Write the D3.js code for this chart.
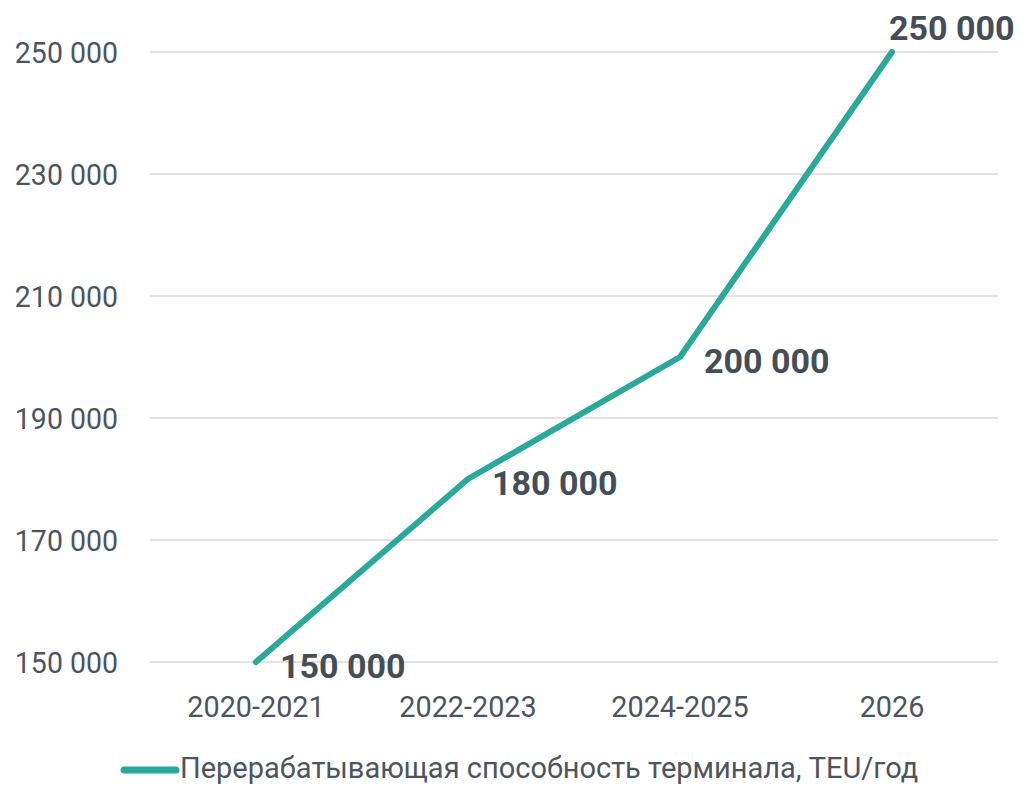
<!DOCTYPE html>
<html>
<head>
<meta charset="utf-8">
<script src="https://cdn.jsdelivr.net/npm/d3@7"></script>
<style>
	body { margin: 0; background: #fff; }
	text { font-family: Roboto, "Noto Sans", sans-serif; }
</style>
</head>
<body>
<div id="chart"></div>
<script>
let periods = ["2020-2021", "2022-2023", "2024-2025", "2026"];
let capacity = [150000, 180000, 200000, 250000];
let yTicks = [150000, 170000, 190000, 210000, 230000, 250000];
let seriesName = "Перерабатывающая способность терминала, TEU/год";

let w = 1023,
	h = 785,
	lineColor = "#2aa89a",
	textColor = "#4c555e";

let fmt = (v) => d3.format(",")(v).replace(/,/g, " ");

let svg = d3
	.select("#chart")
	.append("svg")
	.attr("width", w)
	.attr("height", h);

let x = d3.scalePoint().domain(periods).range([150, 998]).padding(0.5);
let y = d3.scaleLinear().domain([150000, 250000]).range([662, 52]);

// places a text with a horizontal squeeze (the original font is condensed)
function place(sel, fx, fy, sq) {
	sel.attr("transform", (d, i) => "translate(" + fx(d, i) + "," + fy(d, i) + ") scale(" + sq + ",1)");
}

// grid
svg
	.append("g")
	.selectAll("line")
	.data(yTicks)
	.enter()
	.append("line")
	.attr("x1", 150)
	.attr("x2", 998)
	.attr("y1", (d) => y(d))
	.attr("y2", (d) => y(d))
	.attr("stroke", "#d9d9d9")
	.attr("stroke-width", 1.5);

// y labels
svg
	.append("g")
	.selectAll("text")
	.data(yTicks)
	.enter()
	.append("text")
	.attr("text-anchor", "end")
	.attr("dy", "0.36em")
	.attr("font-size", 30)
	.attr("fill", textColor)
	.text((d) => fmt(d))
	.call(place, () => 118, (d) => y(d), 0.95);

// x labels
svg
	.append("g")
	.selectAll("text")
	.data(periods)
	.enter()
	.append("text")
	.attr("text-anchor", "middle")
	.attr("font-size", 30)
	.attr("fill", textColor)
	.text((d) => d)
	.call(place, (d) => x(d), () => 717, 0.96);

// line
let line = d3
	.line()
	.x((d, i) => x(periods[i]))
	.y((d) => y(d));

svg
	.append("path")
	.datum(capacity)
	.attr("d", line)
	.attr("fill", "none")
	.attr("stroke", lineColor)
	.attr("stroke-width", 6)
	.attr("stroke-linecap", "round")
	.attr("stroke-linejoin", "round");

// value labels
svg
	.append("g")
	.selectAll("text")
	.data(capacity)
	.enter()
	.append("text")
	.attr("font-size", 34)
	.attr("font-weight", "bold")
	.attr("fill", "#454e57")
	.text((d) => fmt(d))
	.call(
		place,
		(d, i) => x(periods[i]) + (i === capacity.length - 1 ? -3 : 24),
		(d, i) => y(d) + (i === capacity.length - 1 ? -12 : 16),
		1
	);

// legend
let legend = svg.append("g");
legend
	.append("line")
	.attr("x1", 124)
	.attr("x2", 176)
	.attr("y1", 770)
	.attr("y2", 770)
	.attr("stroke", lineColor)
	.attr("stroke-width", 7)
	.attr("stroke-linecap", "round");
legend
	.append("text")
	.datum(seriesName)
	.attr("font-size", 29)
	.attr("fill", textColor)
	.text((d) => d)
	.call(place, () => 180, () => 778, 1);
</script>
</body>
</html>
